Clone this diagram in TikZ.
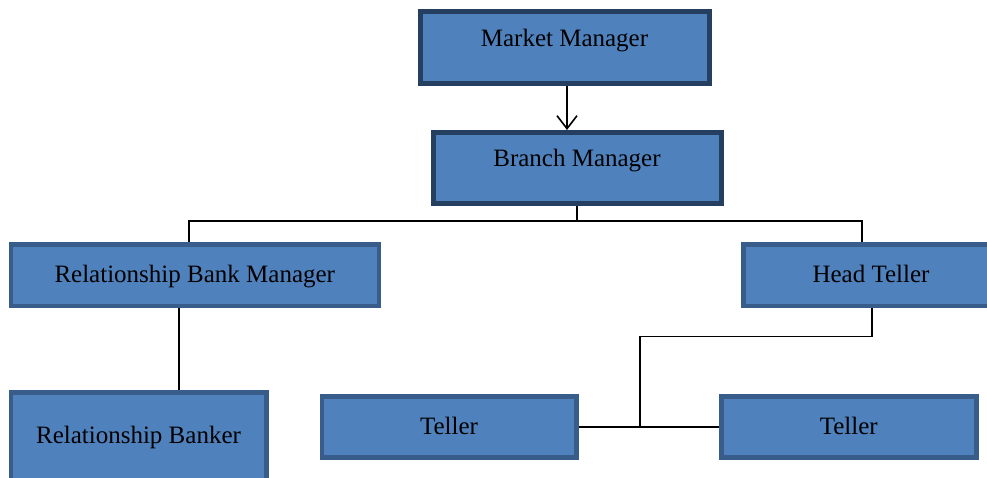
\documentclass[tikz,border=0pt]{standalone}
\usepackage{fontspec}
\setmainfont{Liberation Serif}
\usetikzlibrary{arrows.meta}
\definecolor{boxfill}{HTML}{4F81BD}
\definecolor{topline}{HTML}{243F60}
\definecolor{lowline}{HTML}{385D8A}
\begin{document}
\begin{tikzpicture}[x=1pt,y=-1pt,
  lbl/.style={font=\fontsize{25}{28}\selectfont, text=black, inner sep=0pt},
  topbox/.style={lbl, draw=topline, line width=5pt, fill=boxfill, text height=18pt, text depth=21pt},
  lowbox/.style={lbl, draw=lowline, line width=4.5pt, fill=boxfill, text height=18pt, text depth=3pt},
  conn/.style={draw=black, line width=1.6pt},
  arr/.style={conn, -{Straight Barb[length=13pt,width=20pt,line width=1.6pt]}}
]
\useasboundingbox[fill=white] (0,0) rectangle (987,478);

\node[topbox, minimum width=289pt, minimum height=71.5pt] (mm) at (564.5,47.75) {Market Manager};
\node[topbox, minimum width=288pt, minimum height=71pt] (bm) at (577,168) {Branch Manager};
\node[lowbox, minimum width=368pt, minimum height=61pt] (rbm) at (194.75,275.25) {Relationship Bank Manager};
\node[lowbox, minimum width=255.5pt, minimum height=61pt] (ht) at (871,275.25) {Head Teller};
\node[lowbox, minimum width=255.5pt, minimum height=87.5pt] (rb) at (138.5,436) {Relationship Banker};
\node[lowbox, minimum width=254.5pt, minimum height=61pt] (t1) at (449,426.75) {Teller};
\node[lowbox, minimum width=255pt, minimum height=61pt] (t2) at (848.75,426.75) {Teller};

\draw[arr] ([xshift=2.5pt]mm.south) -- ([xshift=2.5pt]mm.south |- bm.north);

\coordinate (bj) at ([yshift=-15pt]bm.south);
\draw[conn] (bm.south) -- (bj);
\draw[conn] (bj) -| ([xshift=-5.75pt]rbm.north);
\draw[conn] (bj) -| ([xshift=-9.25pt]ht.north);

\draw[conn] ([xshift=-15.75pt]rbm.south) -- ([xshift=-15.75pt]rbm.south |- rb.north);

\coordinate (hj) at ([xshift=0.75pt,yshift=-28.5pt]ht.south);
\coordinate (tj) at (640,426.75);
\draw[conn] ([xshift=0.75pt]ht.south) -- (hj) -| (tj);
\draw[conn] (t1.east) -- (t2.west);
\end{tikzpicture}
\end{document}
